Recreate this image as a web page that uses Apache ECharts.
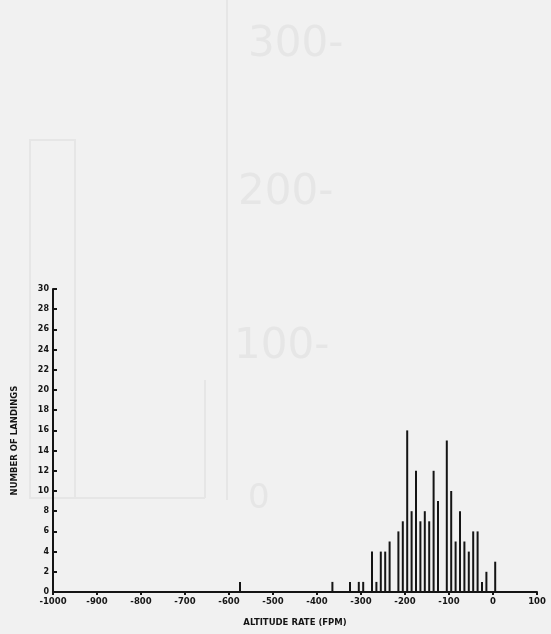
<!DOCTYPE html>
<html><head><meta charset="utf-8">
<script src="https://cdn.jsdelivr.net/npm/echarts@6/dist/echarts.min.js"></script>
<style>html,body{margin:0;padding:0;background:#f1f1f1}#c{width:551px;height:634px}</style>
</head><body><div id="c"></div><script>
// Altitude rate bin centres (FPM) and number of landings in each 10-FPM bin
const binCenters = [-575,-365,-325,-305,-295,-275,-265,-255,-245,-235,-215,-205,-195,-185,-175,-165,-155,-145,-135,-125,-105,-95,-85,-75,-65,-55,-45,-35,-25,-15,5];
const landings   = [1,1,1,1,1,4,1,4,4,5,6,7,16,8,12,7,8,7,12,9,15,10,5,8,5,4,6,6,1,2,3];
const xTicks = [-1000,-900,-800,-700,-600,-500,-400,-300,-200,-100,0,100];
const yTicks = [0,2,4,6,8,10,12,14,16,18,20,22,24,26,28,30];
const xTitle = 'ALTITUDE RATE (FPM)';
const yTitle = 'NUMBER OF LANDINGS';

const ink = '#151515';
const font = 'DejaVu Sans';
const ghost = '#e6e6e6';
const chart = echarts.init(document.getElementById('c'), null, {renderer: 'canvas'});
chart.setOption({
  backgroundColor: '#f1f1f1',
  animation: false,
  graphic: [
    {type: 'text', left: 248, top: 24, z: -5, style: {text: '300-', font: '42px "DejaVu Sans"', fill: ghost}},
    {type: 'text', left: 238, top: 172, z: -5, style: {text: '200-', font: '42px "DejaVu Sans"', fill: ghost}},
    {type: 'text', left: 234, top: 326, z: -5, style: {text: '100-', font: '42px "DejaVu Sans"', fill: ghost}},
    {type: 'text', left: 248, top: 482, z: -5, style: {text: '0', font: '34px "DejaVu Sans"', fill: ghost}},
    {type: 'line', z: -5, shape: {x1: 227, y1: 0, x2: 227, y2: 500}, style: {stroke: ghost, lineWidth: 2}},
    {type: 'rect', z: -5, shape: {x: 30, y: 140, width: 45, height: 358}, style: {fill: 'none', stroke: ghost, lineWidth: 2}},
    {type: 'line', z: -5, shape: {x1: 75, y1: 498, x2: 205, y2: 498}, style: {stroke: ghost, lineWidth: 2}},
    {type: 'line', z: -5, shape: {x1: 205, y1: 380, x2: 205, y2: 498}, style: {stroke: ghost, lineWidth: 2}}
  ],
  grid: {left: 53, right: 14, top: 289, bottom: 42, containLabel: false},
  xAxis: {
    type: 'value',
    min: xTicks[0], max: xTicks[xTicks.length - 1], interval: 100,
    name: xTitle, nameLocation: 'middle', nameGap: 26,
    nameTextStyle: {color: ink, fontFamily: font, fontWeight: 'bold', fontSize: 8.5},
    axisLine: {show: true, onZero: false, lineStyle: {color: ink, width: 2}},
    axisTick: {show: true, length: 3, lineStyle: {color: ink, width: 2}},
    axisLabel: {color: ink, fontFamily: font, fontWeight: 'bold', fontSize: 8.5, margin: 5,
      showMinLabel: true, showMaxLabel: true, formatter: v => String(v)},
    splitLine: {show: false}
  },
  yAxis: {
    type: 'value',
    min: yTicks[0], max: yTicks[yTicks.length - 1], interval: 2,
    name: yTitle, nameLocation: 'middle', nameGap: 34, nameRotate: 90,
    nameTextStyle: {color: ink, fontFamily: font, fontWeight: 'bold', fontSize: 8.5},
    axisLine: {show: true, onZero: false, lineStyle: {color: ink, width: 2}},
    axisTick: {show: true, inside: true, length: 4, lineStyle: {color: ink, width: 2}},
    axisLabel: {color: ink, fontFamily: font, fontWeight: 'bold', fontSize: 8, margin: 4, formatter: v => String(v)},
    splitLine: {show: false}
  },
  series: [{
    type: 'bar',
    data: binCenters.map((x, i) => [x, landings[i]]),
    barWidth: 2,
    itemStyle: {color: ink},
    silent: true
  }]
});
</script></body></html>
